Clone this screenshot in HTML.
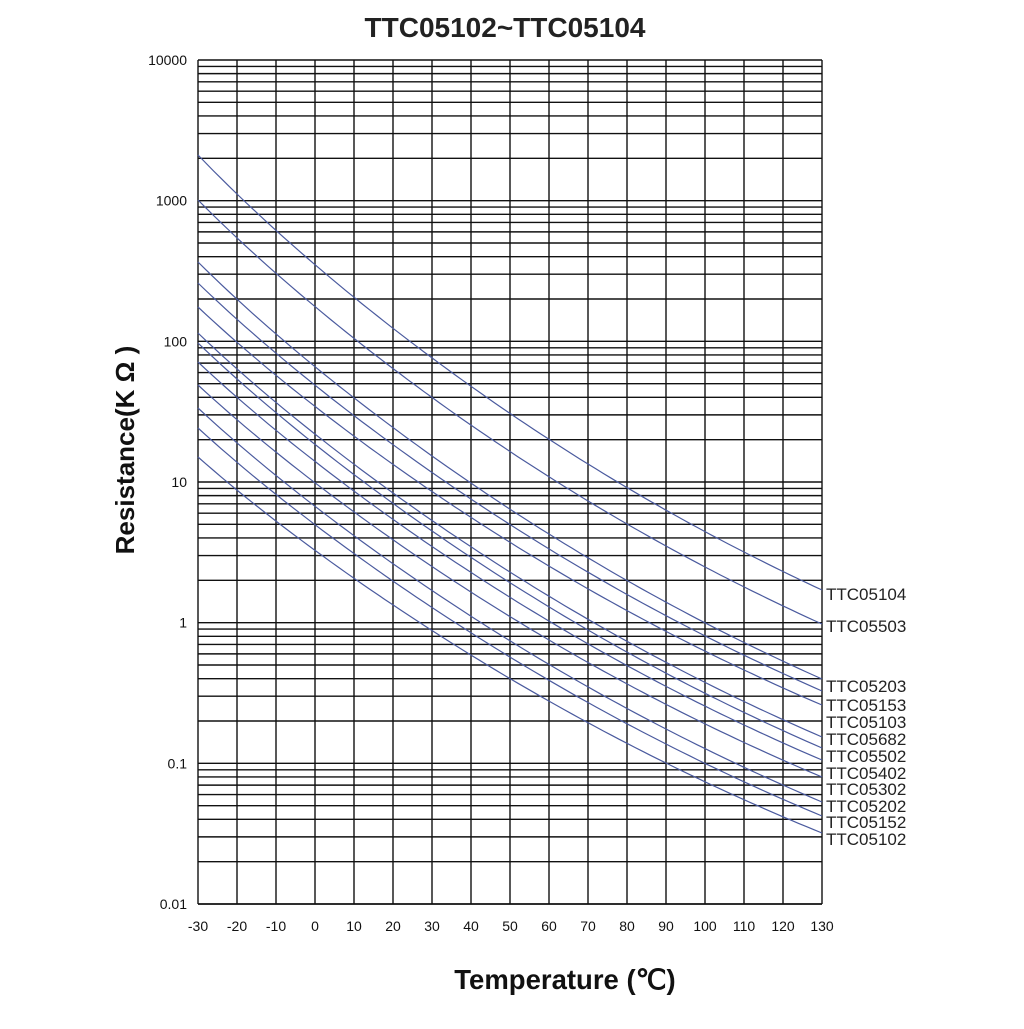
<!DOCTYPE html>
<html><head><meta charset="utf-8"><style>
html,body{margin:0;padding:0;background:#fff;}
svg text{font-family:"Liberation Sans",Arial,sans-serif;}
</style></head><body>
<svg id="s" width="1024" height="1024" viewBox="0 0 1024 1024" xmlns="http://www.w3.org/2000/svg">
<rect width="1024" height="1024" fill="#fff"/>
<text x="505" y="37" font-size="28" font-weight="bold" text-anchor="middle" fill="#222">TTC05102~TTC05104</text>
<text transform="translate(134,450) rotate(-90)" font-size="26" font-weight="bold" text-anchor="middle" fill="#111">Resistance(K Ω )</text>
<text x="565" y="989" font-size="27.5" font-weight="bold" text-anchor="middle" fill="#111">Temperature (℃)</text>
<g id="grid" stroke="#111" stroke-width="1.4"></g>
<g id="curves" fill="none" stroke="#4a5a9e" stroke-width="1.2"></g>
<g id="labels" font-size="14" fill="#111"></g>
</svg>
<script>
var NS="http://www.w3.org/2000/svg";
function el(p,t,a,txt){var e=document.createElementNS(NS,t);for(var k in a)e.setAttribute(k,a[k]);if(txt!==undefined)e.textContent=txt;p.appendChild(e);return e;}
var g=document.getElementById('grid'),cv=document.getElementById('curves'),lb=document.getElementById('labels');
var X0=198,X1=822,Y0=60,Y1=904,dec=(Y1-Y0)/6;
function xp(t){return X0+(t+30)*(X1-X0)/160;}
for(var d=-2;d<4;d++){for(var k=1;k<=10;k++){if(k==10&&d<3)continue;var v=Math.log10(k)+d;var y=Y0+(4-v)*dec;el(g,'line',{x1:X0,x2:X1,y1:y,y2:y});}}
el(g,'line',{x1:X0,x2:X1,y1:Y1,y2:Y1});
for(var t=-30;t<=130;t+=10){var x=xp(t);el(g,'line',{x1:x,x2:x,y1:Y0,y2:Y1});
el(lb,'text',{x:x,y:931,'text-anchor':'middle'},String(t));}
var yl=['10000','1000','100','10','1','0.1','0.01'];
for(var i=0;i<7;i++){el(lb,'text',{x:187,y:Y0+i*dec+5,'text-anchor':'end'},yl[i]);}
var L=[155,200,262,283,307,333,343,362,385,408,428,457];
var R=[590,624,679,691,705,737,748,760,777,802,816,833];
var uL=1/243.15,uR=1/403.15;
for(var i=0;i<12;i++){var pts=[];for(var t=-30;t<=130;t+=2){var u=1/(t+273.15);var f=(uL-u)/(uL-uR);
var bend=-14*Math.sin(Math.PI*f);
pts.push(xp(t).toFixed(1)+','+(L[i]+f*(R[i]-L[i])+bend).toFixed(1));}
el(cv,'polyline',{points:pts.join(' ')});}
var names=['TTC05104','TTC05503','TTC05203','TTC05153','TTC05103','TTC05682','TTC05502','TTC05402','TTC05302','TTC05202','TTC05152','TTC05102'];
var ly=[594,626,686,705,722,739,756,773,789,806,822,839];
for(var i=0;i<12;i++)el(lb,'text',{x:826,y:ly[i]+6,'font-size':'17',fill:'#222'},names[i]);
</script>
</body></html>
